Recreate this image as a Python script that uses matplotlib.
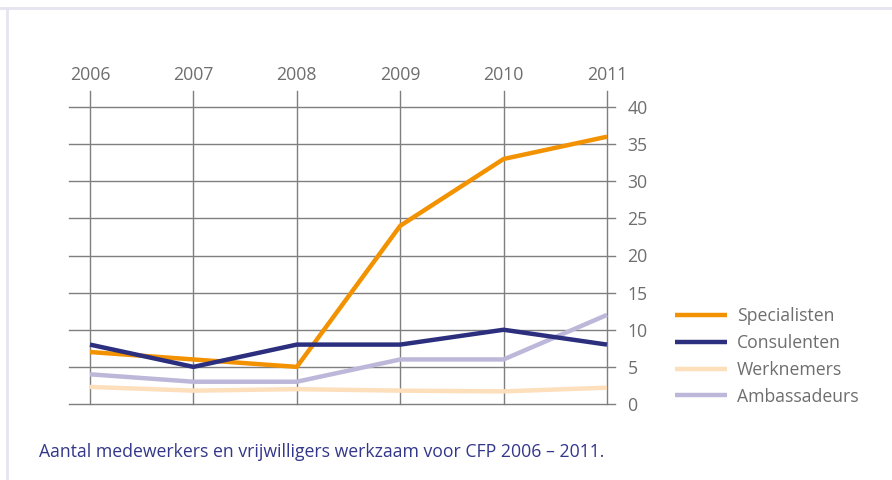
import matplotlib
matplotlib.use("Agg")
import matplotlib.pyplot as plt
from matplotlib.lines import Line2D
from matplotlib.transforms import blended_transform_factory

years = [2006, 2007, 2008, 2009, 2010, 2011]
specialisten = [7, 6, 5, 24, 33, 36]
consulenten = [8, 5, 8, 8, 10, 8]
werknemers = [2.3, 1.8, 2.0, 1.8, 1.7, 2.2]
ambassadeurs = [4, 3, 3, 6, 6, 12]
y_ticks = [0, 5, 10, 15, 20, 25, 30, 35, 40]
series_names = ["Specialisten", "Consulenten", "Werknemers", "Ambassadeurs"]
caption = "Aantal medewerkers en vrijwilligers werkzaam voor CFP 2006 – 2011."

colors = ["#F39200", "#2B2F7E", "#FDDFBC", "#BDB7D9"]
grid_c = "#7F7F7F"
text_c = "#6E6E6E"
fs = 12.7

plt.rcParams['font.family'] = ['Open Sans', 'DejaVu Sans']

W, H = 892, 480
fig = plt.figure(figsize=(W / 100, H / 100), dpi=100)
fig.patch.set_facecolor("white")

# light frame
fig.add_artist(Line2D([0, 1], [1 - 8 / H, 1 - 8 / H], transform=fig.transFigure,
                      color="#E6E4F0", lw=2))
fig.add_artist(Line2D([6.5 / W, 6.5 / W], [0, 1 - 8 / H], transform=fig.transFigure,
                      color="#E6E4F0", lw=2))

left_px, right_px, bottom_px, top_px = 69, 615, 404, 91
ax = fig.add_axes([left_px / W, 1 - bottom_px / H, (right_px - left_px) / W,
                   (bottom_px - top_px) / H])
px_per_year = (607 - 90) / 5
ax.set_xlim(2006 - (90 - left_px) / px_per_year, 2011 + (right_px - 607) / px_per_year)
ax.set_ylim(0, 40 * (bottom_px - top_px) / (404 - 107))
for s in ax.spines.values():
    s.set_visible(False)

for yv in y_ticks:
    ax.axhline(yv, color=grid_c, lw=1.0, zorder=1, clip_on=False)
for xv in years:
    ax.axvline(xv, color=grid_c, lw=1.0, zorder=1, clip_on=False)

data = [specialisten, consulenten, werknemers, ambassadeurs]
order = [2, 3, 0, 1]
handles = {}
for i in order:
    ln, = ax.plot(years, data[i], color=colors[i], lw=3.2, zorder=3,
                  solid_capstyle='butt', label=series_names[i])
    handles[i] = ln

ax.set_xticks([])
ax.yaxis.tick_right()
ax.set_yticks(y_ticks)
ax.set_yticklabels([str(v) for v in y_ticks])
ax.tick_params(axis='y', length=0, pad=9, labelsize=fs, labelcolor=text_c)

tr = blended_transform_factory(ax.transData, ax.transAxes)
for xv in years:
    ax.text(xv, (bottom_px - 75) / (bottom_px - top_px), str(xv), transform=tr,
            ha='center', va='center', fontsize=fs, color=text_c)

leg = fig.legend([handles[i] for i in range(4)], series_names,
                 loc='upper left', bbox_to_anchor=(668 / W, 1 - 300 / H),
                 frameon=False, fontsize=fs, handlelength=2.95, handletextpad=0.55,
                 labelspacing=0.5, borderaxespad=0)
for t in leg.get_texts():
    t.set_color(text_c)
for l in leg.get_lines():
    l.set_linewidth(3.2)

fig.text(39 / W, 1 - 452 / H, caption, ha='left', va='center', fontsize=fs,
         color="#33378A")

fig.savefig("out.png", dpi=100)
